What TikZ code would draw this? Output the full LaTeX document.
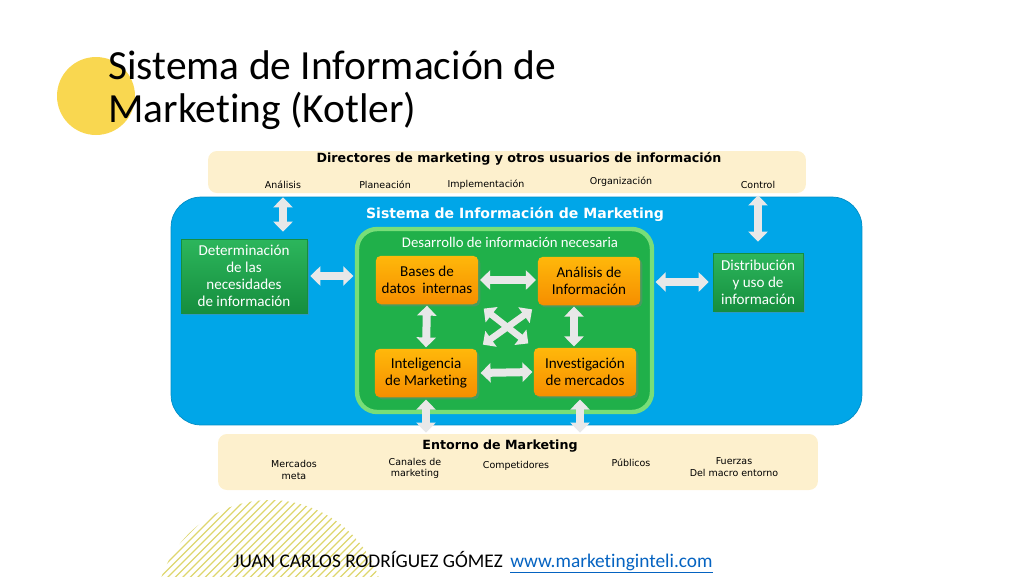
\documentclass[tikz,border=0pt]{standalone}
\usepackage{fontspec}
\setmainfont{Carlito}[Ligatures=NoCommon]
\newfontfamily\tahoma{DejaVu Sans}
\usepackage{xcolor}
\usetikzlibrary{arrows.meta, positioning, calc, shadows}

\definecolor{sunYellow}{RGB}{249,215,80}
\definecolor{hatchYellow}{RGB}{222,214,110}
\definecolor{barBeige}{RGB}{253,240,205}
\definecolor{simBlue}{RGB}{0,166,232}
\definecolor{devGreen}{RGB}{32,176,74}
\definecolor{glowGreen}{RGB}{120,222,120}
\definecolor{boxGreenTop}{RGB}{44,182,92}
\definecolor{boxGreenBot}{RGB}{22,142,62}
\definecolor{orangeTop}{RGB}{255,184,10}
\definecolor{orangeBot}{RGB}{246,142,0}
\definecolor{arrowGray}{RGB}{232,232,232}
\definecolor{linkBlue}{RGB}{5,99,193}

\begin{document}
\begin{tikzpicture}[
    x=0.02cm, y=-0.02cm,
    bar/.style={rectangle, fill=barBeige, rounded corners=5pt, inner sep=0pt},
    sim/.style={rectangle, fill=simBlue, draw=simBlue!85!black, rounded corners=0.6cm, minimum width=13.82cm, minimum height=4.56cm},
    dev/.style={rectangle, fill=devGreen, draw=glowGreen, line width=2.5pt, rounded corners=0.4cm, minimum width=5.9cm, minimum height=3.66cm},
    gbox/.style={rectangle, top color=boxGreenTop, bottom color=boxGreenBot, draw=boxGreenBot, text=white, align=center, inner sep=1pt, font=\fontsize{8.6}{9.7}\selectfont, drop shadow={opacity=0.35, shadow xshift=1.2pt, shadow yshift=-1.2pt}},
    obox/.style={rectangle, top color=orangeTop, bottom color=orangeBot, rounded corners=3pt, minimum width=2.05cm, minimum height=0.97cm, align=center, inner sep=1pt, font=\fontsize{8.6}{9.7}\selectfont, drop shadow={opacity=0.4, shadow xshift=1.2pt, shadow yshift=-1.2pt}},
    head/.style={font=\tahoma\bfseries\fontsize{7.2}{8}\selectfont},
    item/.style={font=\tahoma\fontsize{5.4}{6.4}\selectfont, align=center},
    title/.style={anchor=base west, inner sep=0pt, font=\fontsize{23.6}{24.4}\selectfont},
    footer/.style={anchor=base west, inner sep=0pt, font=\fontsize{11}{13}\selectfont},
    bigarrow/.style={{Triangle[length=0.2cm, width=0.38cm]}-{Triangle[length=0.2cm, width=0.38cm]}, line width=0.16cm, draw=arrowGray},
    crossarrow/.style={bigarrow, line width=0.13cm},
    hatch/.style={draw=hatchYellow, line width=0.7pt}
]
\useasboundingbox (0,0) rectangle (1024,576);

% Decorations
\fill[sunYellow] (96,96) circle [radius=0.78cm];
\begin{scope}
  \clip (270,615) circle [radius=2.3cm];
  \foreach \k in {0,...,60}
    \draw[hatch] (\k*7.5,640) -- (\k*7.5+170,470);
\end{scope}

% Title
\node[title] (title1) at (108,79) {Sistema de Información de};
\node[title] (title2) at (108,122) {Marketing (Kotler)};

% Nodes
\node[bar, minimum width=11.96cm, minimum height=0.84cm] (directores) at (507,172) {};
\node[head] at (519,159) {Directores de marketing y otros usuarios de información};
\node[item] (analisis) at (283,185) {Análisis};
\node[item] (planeacion) at (385,185) {Planeación};
\node[item] (implementacion) at (486,185) {Implementación};
\node[item] (organizacion) at (621,182) {Organización};
\node[item] (control) at (758,185) {Control};

\node[sim] (sistema) at (516.5,311) {};
\node[head, text=white, font=\tahoma\bfseries\fontsize{8}{9}\selectfont] at (515,214) {Sistema de Información de Marketing};

\node[dev] (desarrollo) at (504.5,320.5) {};
\node[text=white, font=\fontsize{8.4}{9}\selectfont] at (510,242) {Desarrollo de información necesaria};

\node[gbox, minimum width=2.52cm, minimum height=1.48cm] (det) at (244,276) {Determinación\\de las\\necesidades\\de información};
\node[gbox, minimum width=1.8cm, minimum height=1.16cm] (dist) at (758,282) {Distribución\\y uso de\\información};

\node[obox] (bases) at (427,280) {Bases de\\datos~~internas};
\node[obox] (anal) at (589,281) {Análisis de\\Información};
\node[obox] (intel) at (426,373) {Inteligencia\\de Marketing};
\node[obox] (inv) at (585,372) {Investigación\\de mercados};

\node[bar, minimum width=12cm, minimum height=1.12cm] (entorno) at (518,462) {};
\node[head] at (500,446) {Entorno de Marketing};
\node[item] (mercados) at (294,470) {Mercados\\meta};
\node[item] (canales) at (415,468) {Canales de\\marketing};
\node[item] (competidores) at (516,466) {Competidores};
\node[item] (publicos) at (631,463) {Públicos};
\node[item] (fuerzas) at (734,467) {Fuerzas\\Del macro entorno};

% Footer
\node[footer] (autor) at (233,567) {JUAN CARLOS RODRÍGUEZ GÓMEZ};
\node[footer, text=linkBlue] (web) at (510,567) {\underline{www.marketinginteli.com}};

% Connections
\draw[bigarrow, shorten <=0.08cm, shorten >=0.14cm] (analisis.south |- directores.south) -- (analisis.south |- det.north);
\draw[bigarrow, shorten <=0.04cm, shorten >=0.22cm] (control.south |- directores.south) -- (control.south |- dist.north);
\draw[bigarrow, shorten <=0.06cm, shorten >=0.03cm] (det.east) -- (det.east -| desarrollo.west);
\draw[bigarrow, shorten <=0.03cm, shorten >=0.03cm] (bases.east) -- (bases.east -| anal.west);
\draw[bigarrow, shorten <=0.03cm, shorten >=0.08cm] (desarrollo.east |- dist.west) -- (dist.west);
\draw[bigarrow, shorten <=0.02cm, shorten >=0.02cm] (bases.south) -- (intel.north);
\draw[bigarrow, shorten <=0.02cm, shorten >=0.02cm] ([xshift=-0.3cm]anal.south) -- ([xshift=-0.3cm]anal.south |- inv.north);
\draw[bigarrow, shorten <=0.06cm, shorten >=0.02cm] (intel.east) -- (inv.west);
\draw[crossarrow, shorten <=0.13cm, shorten >=0.13cm] (bases.south east) -- (inv.north west);
\draw[crossarrow, shorten <=0.13cm, shorten >=0.13cm] (intel.north east) -- (anal.south west);
\draw[bigarrow, shorten <=0.04cm, shorten >=0.02cm] (intel.south) -- (intel.south |- entorno.north);
\draw[bigarrow, shorten <=0.06cm, shorten >=0.02cm] ([xshift=-0.1cm]inv.south) -- ([xshift=-0.1cm]inv.south |- entorno.north);

\end{tikzpicture}
\end{document}
